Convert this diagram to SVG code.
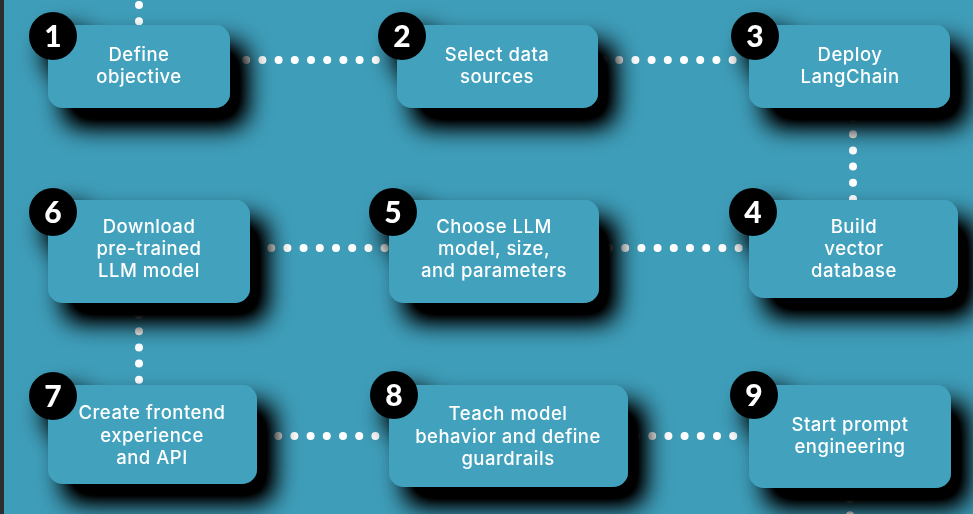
<svg xmlns="http://www.w3.org/2000/svg" width="973" height="514" viewBox="0 0 973 514">
<defs>
<filter id="sh" x="-40%" y="-50%" width="190%" height="220%">
<feGaussianBlur in="SourceAlpha" stdDeviation="13"/>
<feOffset dx="16" dy="18" result="b"/>
<feComponentTransfer in="b" result="c"><feFuncA type="linear" slope="1.45"/></feComponentTransfer>
<feMerge><feMergeNode in="c"/><feMergeNode in="SourceGraphic"/></feMerge>
</filter>
<style>
.box{fill:#42a2be}
.t{font-family:"Inter","Noto Sans",sans-serif;font-weight:500;font-size:18.5px;letter-spacing:0.5px;fill:#ffffff;text-anchor:middle}
.nc{fill:#000000}
.nt{font-family:"Lato","DejaVu Sans",sans-serif;font-weight:900;font-size:30px;fill:#ffffff;text-anchor:middle}
.dots{stroke:#ffffff;stroke-width:8;stroke-linecap:round;stroke-dasharray:0 16.2;fill:none}
</style>
</defs>
<rect x="0" y="0" width="973" height="514" fill="#3e9db9"/>
<rect x="0" y="0" width="4" height="514" fill="#2e2e2e"/>
<g id="connectors">
<path class="dots" d="M139 5 V22"/>
<path class="dots" d="M230 60 H392"/>
<path class="dots" d="M603 60 H748"/>
<path class="dots" d="M853 118 V200"/>
<path class="dots" d="M609 248 H740"/>
<path class="dots" d="M255 248 H386"/>
<path class="dots" d="M139 315 V381"/>
<path class="dots" d="M262 436 H386"/>
<path class="dots" d="M636 436 H746"/>
<path class="dots" d="M850 499 V516"/>
</g>
<g id="node1" filter="url(#sh)">
<rect class="box" x="48" y="25" width="182" height="83" rx="15"/>
<text class="t" x="139" y="61">Define</text>
<text class="t" x="139" y="83">objective</text>
<circle class="nc" cx="53" cy="36" r="24"/>
<text class="nt" x="53" y="46.5">1</text>
</g>
<g id="node2" filter="url(#sh)">
<rect class="box" x="397" y="25" width="201" height="83" rx="15"/>
<text class="t" x="497" y="61">Select data</text>
<text class="t" x="497" y="83">sources</text>
<circle class="nc" cx="402" cy="36" r="24"/>
<text class="nt" x="402" y="46.5">2</text>
</g>
<g id="node3" filter="url(#sh)">
<rect class="box" x="749" y="25" width="201" height="83" rx="15"/>
<text class="t" x="850" y="61">Deploy</text>
<text class="t" x="850" y="83">LangChain</text>
<circle class="nc" cx="755" cy="36" r="24"/>
<text class="nt" x="755" y="46.5">3</text>
</g>
<g id="node4" filter="url(#sh)">
<rect class="box" x="749" y="200" width="209" height="98" rx="15"/>
<text class="t" x="854" y="233">Build</text>
<text class="t" x="854" y="255">vector</text>
<text class="t" x="854" y="277">database</text>
<circle class="nc" cx="753" cy="212" r="24"/>
<text class="nt" x="753" y="222.5">4</text>
</g>
<g id="node5" filter="url(#sh)">
<rect class="box" x="389" y="200" width="210" height="103" rx="15"/>
<text class="t" x="494" y="233">Choose LLM</text>
<text class="t" x="494" y="255">model, size,</text>
<text class="t" x="494" y="277">and parameters</text>
<circle class="nc" cx="393" cy="212" r="24"/>
<text class="nt" x="393" y="222.5">5</text>
</g>
<g id="node6" filter="url(#sh)">
<rect class="box" x="48" y="200" width="202" height="103" rx="15"/>
<text class="t" x="149" y="233">Download</text>
<text class="t" x="149" y="255">pre-trained</text>
<text class="t" x="149" y="277">LLM model</text>
<circle class="nc" cx="53" cy="212" r="24"/>
<text class="nt" x="53" y="222.5">6</text>
</g>
<g id="node7" filter="url(#sh)">
<rect class="box" x="48" y="385" width="209" height="99" rx="15"/>
<text class="t" x="152" y="419">Create frontend</text>
<text class="t" x="152" y="442">experience</text>
<text class="t" x="152" y="464">and API</text>
<circle class="nc" cx="53" cy="396" r="24"/>
<text class="nt" x="53" y="406.5">7</text>
</g>
<g id="node8" filter="url(#sh)">
<rect class="box" x="389" y="385" width="239" height="102" rx="15"/>
<text class="t" x="508" y="420">Teach model</text>
<text class="t" x="508" y="443">behavior and define</text>
<text class="t" x="508" y="465">guardrails</text>
<circle class="nc" cx="394" cy="395" r="24"/>
<text class="nt" x="394" y="405.5">8</text>
</g>
<g id="node9" filter="url(#sh)">
<rect class="box" x="749" y="385" width="202" height="103" rx="15"/>
<text class="t" x="850" y="431">Start prompt</text>
<text class="t" x="850" y="453">engineering</text>
<circle class="nc" cx="754" cy="395" r="24"/>
<text class="nt" x="754" y="405.5">9</text>
</g>
</svg>
